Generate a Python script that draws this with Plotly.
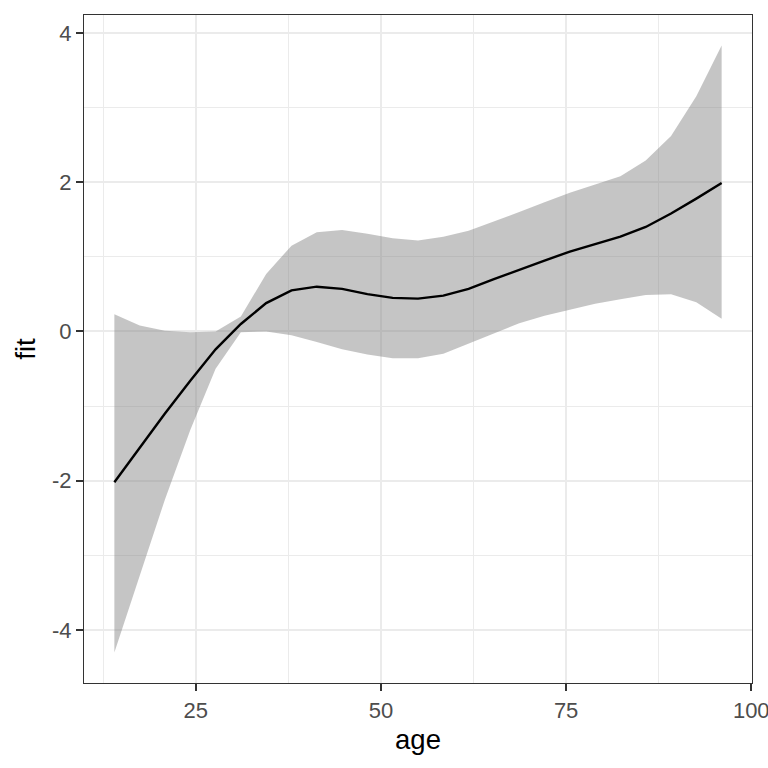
import plotly.graph_objects as go

age = [14.00, 17.42, 20.83, 24.25, 27.67, 31.08, 34.50, 37.92, 41.33, 44.75,
       48.17, 51.58, 55.00, 58.42, 61.83, 65.25, 68.67, 72.08, 75.50, 78.92,
       82.33, 85.75, 89.17, 92.58, 96.00]
fit = [-2.02, -1.56, -1.10, -0.66, -0.24, 0.10, 0.38, 0.55, 0.60, 0.57,
       0.50, 0.45, 0.44, 0.48, 0.57, 0.70, 0.83, 0.95, 1.07, 1.17,
       1.27, 1.40, 1.58, 1.78, 1.99]
upper = [0.23, 0.08, 0.01, -0.01, 0.00, 0.20, 0.77, 1.15, 1.33, 1.36,
         1.31, 1.25, 1.22, 1.27, 1.35, 1.47, 1.60, 1.73, 1.86, 1.97,
         2.08, 2.29, 2.62, 3.15, 3.83]
lower = [-4.30, -3.28, -2.25, -1.32, -0.50, -0.01, 0.00, -0.05, -0.14, -0.24,
         -0.31, -0.36, -0.36, -0.30, -0.17, -0.03, 0.11, 0.21, 0.29, 0.37,
         0.43, 0.49, 0.50, 0.39, 0.17]

x_ticks = [25, 50, 75, 100]
x_tick_labels = ["25", "50", "75", "100"]
y_ticks = [-4, -2, 0, 2, 4]
y_tick_labels = ["-4", "-2", "0", "2", "4"]

fig = go.Figure()
fig.add_trace(go.Scatter(x=age + age[::-1], y=upper + lower[::-1], fill="toself",
                         fillcolor="rgba(128,128,128,0.46)", line=dict(width=0),
                         mode="lines", hoverinfo="skip", showlegend=False))
fig.add_trace(go.Scatter(x=age, y=fit, mode="lines",
                         line=dict(color="black", width=2.4), showlegend=False))

font = "Liberation Sans, Arial, sans-serif"
axis_common = dict(
    showline=True, mirror=True, linecolor="#333333", linewidth=1.2,
    ticks="outside", ticklen=7, tickwidth=1.5, tickcolor="#333333",
    gridcolor="#EBEBEB", gridwidth=1.5, zeroline=False, automargin=False,
    ticklabeloverflow="allow",
    tickfont=dict(family=font, size=22, color="#4D4D4D"),
)
fig.update_xaxes(range=[9.9, 100.1], tickvals=x_ticks, ticktext=x_tick_labels,
                 minor=dict(dtick=12.5, tick0=0, showgrid=True, gridcolor="#EBEBEB", gridwidth=0.8, ticks=""),
                 title=dict(text="age", font=dict(family=font, size=27.5, color="black"), standoff=8),
                 **axis_common)
fig.update_yaxes(range=[-4.71, 4.24], tickvals=y_ticks, ticktext=y_tick_labels,
                 minor=dict(dtick=1, tick0=0, showgrid=True, gridcolor="#EBEBEB", gridwidth=0.8, ticks=""),
                 title=dict(text="fit", font=dict(family=font, size=27.5, color="black"), standoff=8),
                 **axis_common)
fig.update_layout(width=768, height=768, plot_bgcolor="white", paper_bgcolor="white",
                  margin=dict(l=84, r=16, t=15, b=85), showlegend=False)
fig.write_html("out.html", config={"displayModeBar": False},
               post_script="document.body.style.margin='0';document.body.style.overflow='hidden';")
